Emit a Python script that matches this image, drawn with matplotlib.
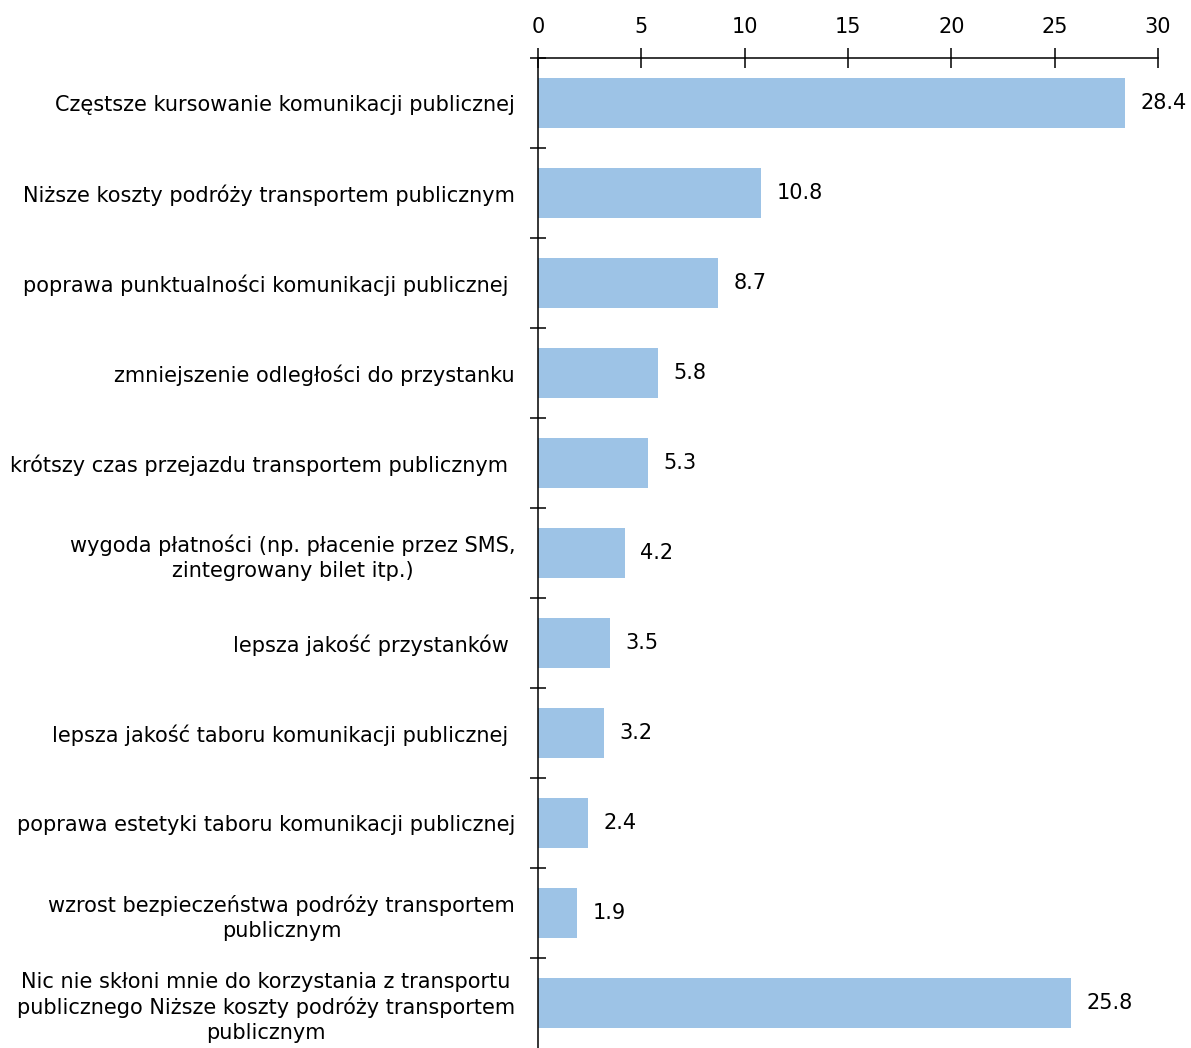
import matplotlib
matplotlib.use("Agg")
import matplotlib.pyplot as plt
import numpy as np

categories = [
    "Częstsze kursowanie komunikacji publicznej",
    "Niższe koszty podróży transportem publicznym",
    "poprawa punktualności komunikacji publicznej ",
    "zmniejszenie odległości do przystanku",
    "krótszy czas przejazdu transportem publicznym ",
    "wygoda płatności (np. płacenie przez SMS,\nzintegrowany bilet itp.)",
    "lepsza jakość przystanków ",
    "lepsza jakość taboru komunikacji publicznej ",
    "poprawa estetyki taboru komunikacji publicznej",
    "wzrost bezpieczeństwa podróży transportem\npublicznym",
    "Nic nie skłoni mnie do korzystania z transportu\npublicznego Niższe koszty podróży transportem\npublicznym",
]
values = [28.4, 10.8, 8.7, 5.8, 5.3, 4.2, 3.5, 3.2, 2.4, 1.9, 25.8]
x_ticks = [0, 5, 10, 15, 20, 25, 30]

plt.rcParams['font.family'] = ['DejaVu Sans']
FS = 15

fig = plt.figure(figsize=(11.91, 10.48), dpi=100)
ax = fig.add_axes([538/1191, 0.0, 620/1191, 1 - 58/1048])

n = len(categories)
y = np.arange(n)
ax.barh(y, values, height=0.55, color='#9DC3E6', edgecolor='none')
ax.set_ylim(n - 0.5, -0.5)
ax.set_xlim(0, 30)

for yi, v in zip(y, values):
    ax.text(v + 0.75, yi, f"{v:.1f}", va='center', ha='left', fontsize=FS, color='black')

ax.xaxis.tick_top()
ax.set_xticks(x_ticks)
ax.set_xticklabels([str(t) for t in x_ticks], fontsize=FS)
ax.tick_params(axis='x', direction='inout', length=14.5, width=1.1, pad=8)

ax.set_yticks(y)
ax.set_yticklabels(categories, fontsize=FS)
for lbl in ax.get_yticklabels():
    lbl.set_multialignment('center')
    lbl.set_linespacing(1.3)
ax.tick_params(axis='y', which='major', length=0, pad=16.5)
ax.set_yticks(np.arange(-0.5, n - 0.5 + 0.01, 1.0)[:-1], minor=True)
ax.tick_params(axis='y', which='minor', direction='inout', length=11.5, width=1.1)

for s in ['right', 'bottom']:
    ax.spines[s].set_visible(False)
for s in ['top', 'left']:
    ax.spines[s].set_linewidth(1.1)

fig.savefig('out.png', dpi=100)
